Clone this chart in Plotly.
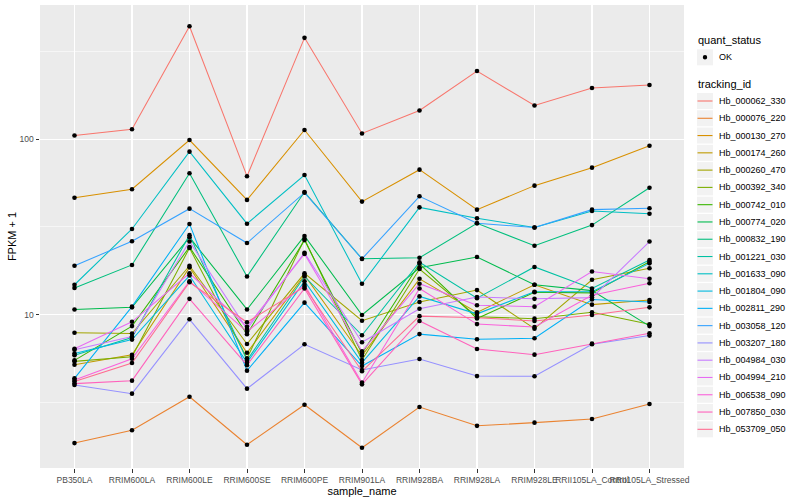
import plotly.graph_objects as go

samples = ["PB350LA", "RRIM600LA", "RRIM600LE", "RRIM600SE", "RRIM600PE", "RRIM901LA",
           "RRIM928BA", "RRIM928LA", "RRIM928LE", "RRII105LA_Control", "RRII105LA_Stressed"]

tracking_ids = ["Hb_000062_330", "Hb_000076_220", "Hb_000130_270", "Hb_000174_260", "Hb_000260_470",
                "Hb_000392_340", "Hb_000742_010", "Hb_000774_020", "Hb_000832_190", "Hb_001221_030",
                "Hb_001633_090", "Hb_001804_090", "Hb_002811_290", "Hb_003058_120", "Hb_003207_180",
                "Hb_004984_030", "Hb_004994_210", "Hb_006538_090", "Hb_007850_030", "Hb_053709_050"]

colors = ["#F8766D", "#EA8331", "#D89000", "#C09B00", "#A3A500", "#7CAE00", "#39B600", "#00BB4E",
          "#00BF7D", "#00C1A3", "#00BFC4", "#00BAE0", "#00B0F6", "#35A2FF", "#9590FF", "#C77CFF",
          "#E76BF3", "#FA62DB", "#FF62BC", "#FF6C91"]

# FPKM + 1 values per gene, in sample order
hb_000062_330 = [105, 114, 441, 61.6, 379, 108, 146, 245, 156, 196, 204]
hb_000076_220 = [1.85, 2.19, 3.40, 1.81, 3.06, 1.74, 2.97, 2.32, 2.42, 2.54, 3.09]
hb_000130_270 = [46.4, 51.9, 99, 45.1, 113, 44.1, 67.1, 39.7, 54.4, 68.9, 91.9]
hb_000174_260 = [5.18, 5.9, 18.6, 6.06, 16.8, 5.83, 16.0, 10.3, 14.8, 11.4, 12.1]
hb_000260_470 = [7.88, 7.8, 19.0, 6.80, 17.2, 9.23, 11.8, 13.8, 8.31, 15.8, 18.4]
hb_000392_340 = [5.41, 5.75, 24.0, 5.63, 27.0, 5.51, 18.2, 9.72, 9.48, 10.3, 8.8]
hb_000742_010 = [5.48, 8.6, 24.3, 7.72, 26.6, 6.0, 19.5, 9.5, 13.4, 13.3, 20.0]
hb_000774_020 = [10.7, 11.0, 27.6, 10.7, 28.1, 9.95, 18.5, 21.3, 14.8, 13.7, 8.6]
hb_000832_190 = [14.2, 19.2, 64.0, 16.5, 50.0, 20.8, 21.1, 33.2, 24.7, 32.4, 52.9]
hb_001221_030 = [5.86, 7.4, 28.4, 5.48, 16.5, 7.62, 19.9, 12.4, 18.7, 14.1, 20.5]
hb_001633_090 = [14.8, 30.8, 85.0, 33.0, 62.5, 15.0, 40.9, 35.4, 31.4, 39.0, 37.6]
hb_001804_090 = [6.0, 7.2, 16.7, 5.32, 15.5, 5.32, 12.7, 10.1, 13.5, 13.5, 19.6]
hb_002811_290 = [4.33, 11.1, 32.9, 4.79, 11.7, 5.09, 7.74, 7.23, 7.33, 12.2, 11.8]
hb_003058_120 = [19.0, 26.2, 40.2, 25.6, 49.6, 20.8, 47.3, 33.2, 31.4, 39.7, 40.4]
hb_003207_180 = [3.97, 3.54, 9.40, 3.78, 6.77, 4.83, 5.58, 4.46, 4.45, 6.77, 7.59]
hb_004984_030 = [6.3, 7.5, 26.1, 8.28, 22.5, 6.95, 10.8, 12.6, 12.3, 12.5, 26.1]
hb_004994_210 = [6.39, 9.1, 17.2, 8.53, 22.2, 6.18, 15.0, 11.3, 11.1, 17.6, 16.0]
hb_006538_090 = [4.23, 5.6, 15.5, 7.98, 14.8, 4.09, 14.1, 8.83, 8.5, 12.9, 15.1]
hb_007850_030 = [4.04, 4.2, 12.3, 5.15, 14.1, 4.0, 9.2, 6.37, 5.91, 6.83, 7.82]
hb_053709_050 = [4.15, 5.3, 15.3, 9.04, 14.4, 4.75, 9.8, 9.6, 9.2, 9.95, 11.0]

series = [hb_000062_330, hb_000076_220, hb_000130_270, hb_000174_260, hb_000260_470,
          hb_000392_340, hb_000742_010, hb_000774_020, hb_000832_190, hb_001221_030,
          hb_001633_090, hb_001804_090, hb_002811_290, hb_003058_120, hb_003207_180,
          hb_004984_030, hb_004994_210, hb_006538_090, hb_007850_030, hb_053709_050]

quant_status = "OK"

FONT = "Liberation Sans"
fig = go.Figure()

for name, col, vals in zip(tracking_ids, colors, series):
    fig.add_trace(go.Scatter(x=samples, y=vals, mode="lines", name=name,
                             line=dict(color=col, width=1.05), showlegend=False))

all_x, all_y = [], []
for vals in series:
    all_x += samples
    all_y += vals
fig.add_trace(go.Scatter(x=all_x, y=all_y, mode="markers", name=quant_status,
                         marker=dict(color="black", size=4.6), showlegend=False))

# plot area in pixels
L, R, T, B = 40, 684, 5, 468


def px(x):
    return (x - L) / (R - L)


def py(y):
    return (B - y) / (B - T)


shapes = []
annotations = []

# legend: quant_status
annotations.append(dict(x=px(696), y=py(40), xref="paper", yref="paper", text="quant_status",
                        showarrow=False, xanchor="left", yanchor="middle",
                        font=dict(family=FONT, size=11, color="black")))
yc = 57.3
shapes.append(dict(type="rect", xref="paper", yref="paper", x0=px(697), x1=px(713),
                   y0=py(yc + 8), y1=py(yc - 8), fillcolor="#F2F2F2", line=dict(width=0), layer="above"))
shapes.append(dict(type="circle", xref="paper", yref="paper", x0=px(702.8), x1=px(707.2),
                   y0=py(yc + 2.2), y1=py(yc - 2.2), fillcolor="black", line=dict(width=0), layer="above"))
annotations.append(dict(x=px(717), y=py(yc), xref="paper", yref="paper", text=quant_status,
                        showarrow=False, xanchor="left", yanchor="middle",
                        font=dict(family=FONT, size=9, color="black")))

# legend: tracking_id
annotations.append(dict(x=px(696), y=py(84.3), xref="paper", yref="paper", text="tracking_id",
                        showarrow=False, xanchor="left", yanchor="middle",
                        font=dict(family=FONT, size=11, color="black")))
step = 17.28
for i, (name, col) in enumerate(zip(tracking_ids, colors)):
    yc = 101 + i * step
    shapes.append(dict(type="rect", xref="paper", yref="paper", x0=px(697), x1=px(713),
                       y0=py(yc + 8), y1=py(yc - 8), fillcolor="#F2F2F2", line=dict(width=0), layer="above"))
    shapes.append(dict(type="line", xref="paper", yref="paper", x0=px(697.5), x1=px(712.5),
                       y0=py(yc), y1=py(yc), line=dict(color=col, width=1.1), layer="above"))
    annotations.append(dict(x=px(717), y=py(yc), xref="paper", yref="paper", text=name,
                            showarrow=False, xanchor="left", yanchor="middle",
                            font=dict(family=FONT, size=9, color="black")))

fig.update_layout(
    width=800, height=500, autosize=False,
    margin=dict(l=L, r=800 - R, t=T, b=500 - B, autoexpand=False),
    paper_bgcolor="white", plot_bgcolor="#EBEBEB",
    font=dict(family=FONT, size=9, color="#4D4D4D"),
    showlegend=False, hovermode=False,
    shapes=shapes, annotations=annotations,
    xaxis=dict(type="category", categoryorder="array", categoryarray=samples,
               range=[-0.6, 10.6], showgrid=True, gridcolor="white", gridwidth=1.1,
               zeroline=False, showline=False, ticks="outside", ticklen=3.5, tickwidth=1,
               tickangle=0, automargin=False,
               tickcolor="#333333", tickfont=dict(family=FONT, size=8.5, color="#4D4D4D"),
               title=dict(text="sample_name", font=dict(family=FONT, size=11, color="black"), standoff=2)),
    yaxis=dict(type="log", range=[0.125, 2.766], tickvals=[10, 100], ticktext=["10", "100"],
               showgrid=True, gridcolor="white", gridwidth=1.1, zeroline=False, showline=False,
               ticks="outside", ticklen=3.5, tickwidth=1, tickcolor="#333333", automargin=False,
               tickfont=dict(family=FONT, size=8.5, color="#4D4D4D"),
               minor=dict(tickvals=[10 ** 0.5, 10 ** 1.5, 10 ** 2.5], showgrid=True,
                          gridcolor="white", gridwidth=0.55, ticks=""),
               title=dict(text="FPKM + 1", font=dict(family=FONT, size=11, color="black"), standoff=0)),
)

fig.write_html("out.html", config={"displayModeBar": False, "staticPlot": True},
               post_script="document.body.style.margin='0px';")
